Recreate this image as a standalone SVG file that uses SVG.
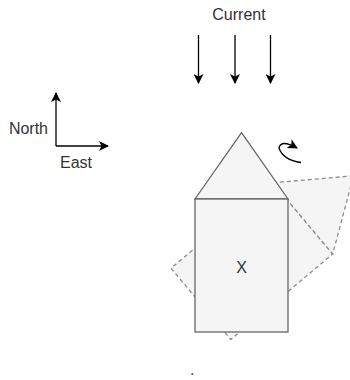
<svg xmlns="http://www.w3.org/2000/svg" width="350" height="380" viewBox="0 0 350 380">
<defs>
<marker id="ah" viewBox="0 0 10 10" refX="9" refY="5" markerWidth="7.5" markerHeight="7.5" markerUnits="userSpaceOnUse" orient="auto">
<path d="M0,0 L10,5 L0,10 L2.5,5 Z" fill="#000"/>
</marker>
<marker id="ah2" viewBox="0 0 10 10" refX="9" refY="5" markerWidth="10" markerHeight="10" markerUnits="userSpaceOnUse" orient="auto">
<path d="M0,0 L10,5 L0,10 L2.5,5 Z" fill="#000"/>
</marker>
</defs>
<style>
.lbl{font-family:"Liberation Sans",Arial,sans-serif;font-size:16px;fill:#333}
.ghost{fill:#f5f5f5;stroke:#8c8c8c;stroke-width:1.3;stroke-dasharray:4 3}
.solid{fill:#f5f5f5;stroke:#666;stroke-width:1.3}
.conn{fill:none;stroke:#000;stroke-width:1.3}
</style>
<rect width="350" height="380" fill="#fff"/>
<g id="rotated-house" transform="translate(300,-94.5) rotate(50)">
<rect class="ghost" x="195" y="199" width="93" height="133"/>
<path class="ghost" d="M195,199 L241.5,132.7 L288,199 Z"/>
</g>
<g id="house">
<path class="solid" d="M195,199 L241.5,132.7 L288,199 Z"/>
<rect class="solid" x="195" y="199" width="93" height="133"/>
<text class="lbl" x="241.5" y="272.5" text-anchor="middle">X</text>
</g>
<g id="current-label">
<text class="lbl" x="239" y="20" text-anchor="middle">Current</text>
</g>
<g id="north-label">
<text class="lbl" x="48" y="134" text-anchor="end">North</text>
</g>
<g id="east-label">
<text class="lbl" x="60" y="168">East</text>
</g>
<g id="dot">
<text class="lbl" x="190" y="375">.</text>
</g>
<g id="connectors">
<line class="conn" x1="198.5" y1="35" x2="198.5" y2="83" marker-end="url(#ah2)"/>
<line class="conn" x1="235" y1="35" x2="235" y2="83" marker-end="url(#ah2)"/>
<line class="conn" x1="270.5" y1="35" x2="270.5" y2="83" marker-end="url(#ah2)"/>
<path class="conn" d="M56,146 L56,93" marker-end="url(#ah2)"/>
<path class="conn" d="M56,146 L108,146" marker-end="url(#ah2)"/>
<path class="conn" d="M301,162.5 Q283,160 279,148 Q281,139 297,148" marker-end="url(#ah2)"/>
</g>
</svg>
